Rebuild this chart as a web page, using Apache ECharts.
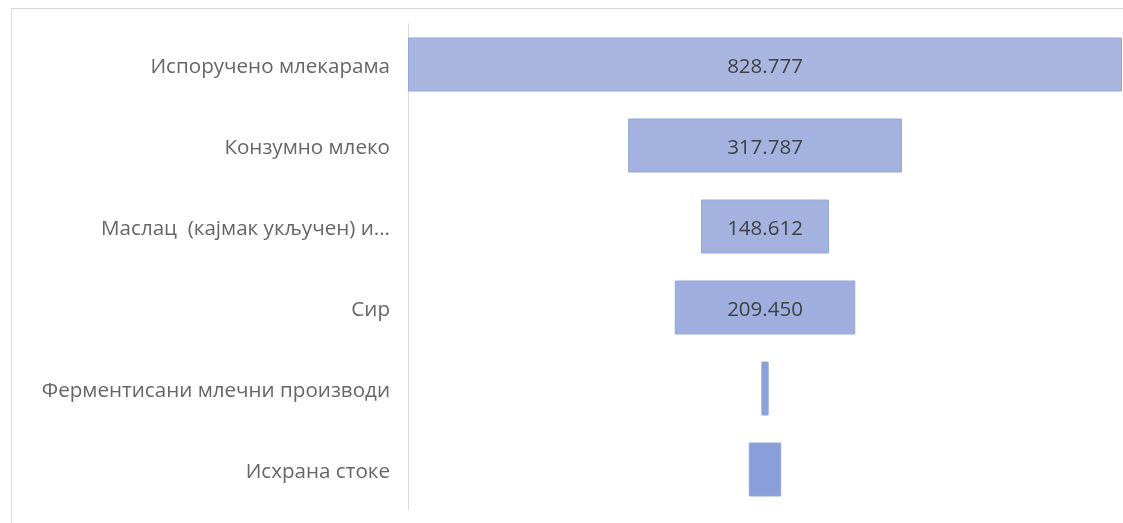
<!DOCTYPE html>
<html>
<head>
<meta charset="utf-8">
<script src="https://cdn.jsdelivr.net/npm/echarts@6/dist/echarts.min.js"></script>
<style>html,body{margin:0;padding:0;background:#fff}#c{width:1123px;height:523px}</style>
</head>
<body>
<div id="c"></div>
<script>
const categories = ['Испоручено млекарама', 'Конзумно млеко', 'Маслац  (кајмак укључен) и...', 'Сир', 'Ферментисани млечни производи', 'Исхрана стоке'];
const values = [828.777, 317.787, 148.612, 209.450, 8.5, 37.7];
const labelTexts = ['828.777', '317.787', '148.612', '209.450', '', ''];
const barColors = ['#a9b6df', '#a3b2df', '#a3b2df', '#9eaede', '#8c9fd9', '#8a9ed9'];

const maxVal = Math.max(...values);
const pads = values.map(v => (maxVal - v) / 2);

const chart = echarts.init(document.getElementById('c'), null, {renderer: 'canvas'});
chart.setOption({
  animation: false,
  backgroundColor: '#fff',
  graphic: [
    {type: 'line', shape: {x1: 11.5, y1: 8, x2: 11.5, y2: 523}, style: {stroke: '#d9d9d9', lineWidth: 1}, silent: true},
    {type: 'line', shape: {x1: 11, y1: 8.5, x2: 1123, y2: 8.5}, style: {stroke: '#d9d9d9', lineWidth: 1}, silent: true}
  ],
  grid: {left: 408, right: 1, top: 24, bottom: 13, containLabel: false},
  xAxis: {type: 'value', min: 0, max: maxVal, show: false},
  yAxis: {
    type: 'category', data: categories, inverse: true,
    axisLine: {show: true, lineStyle: {color: '#d9d9d9', width: 1}},
    axisTick: {show: false},
    axisLabel: {
      margin: 18,
      formatter: v => '{a|' + v + '}',
      rich: {a: {color: '#666666', fontSize: 20.6, fontFamily: 'Open Sans', padding: [6, 0, 0, 0]}}
    }
  },
  series: [
    {type: 'bar', stack: 'f', data: pads, barWidth: 54, itemStyle: {color: 'transparent'}, silent: true},
    {type: 'bar', stack: 'f', barWidth: 54,
      data: values.map((v, i) => ({value: v, itemStyle: {color: barColors[i], borderColor: '#95a6d8', borderWidth: 1},
        label: {show: labelTexts[i] !== '', formatter: labelTexts[i]}})),
      label: {position: 'inside', color: '#404040', fontSize: 20.5, fontFamily: 'Open Sans', offset: [0, 3]}
    }
  ]
});
</script>
</body>
</html>
